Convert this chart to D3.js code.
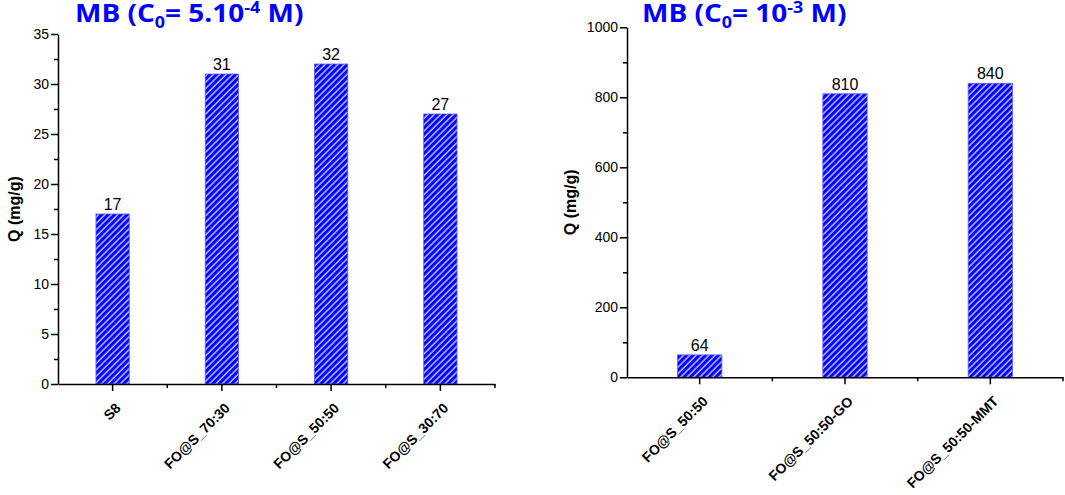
<!DOCTYPE html>
<html><head><meta charset="utf-8">
<script src="https://cdn.jsdelivr.net/npm/d3@7"></script>
<style>body{margin:0;background:#fff} svg{display:block}</style>
</head><body>
<svg id="c" width="1065" height="495"></svg>
<script>
const catsA = ["S8", "FO@S_70:30", "FO@S_50:50", "FO@S_30:70"];
const valsA = [17, 31, 32, 27];
const ticksA = [0, 5, 10, 15, 20, 25, 30, 35];
const minorA = [2.5, 7.5, 12.5, 17.5, 22.5, 27.5, 32.5];
const catsB = ["FO@S_50:50", "FO@S_50:50-GO", "FO@S_50:50-MMT"];
const valsB = [64, 810, 840];
const ticksB = [0, 200, 400, 600, 800, 1000];
const minorB = [100, 300, 500, 700, 900];
const yLabel = "Q (mg/g)";
const titleA = [["MB (C", 0], ["0", -1], ["= 5.10", 0], ["-4", 1], [" M)", 0]];
const titleB = [["MB (C", 0], ["0", -1], ["= 10", 0], ["-3", 1], [" M)", 0]];

const BLUE = "#0000ff";
const svg = d3.select("#c");
const defs = svg.append("defs");
const pat = defs.append("pattern").attr("id", "hatch")
  .attr("patternUnits", "userSpaceOnUse").attr("width", 4.5).attr("height", 4.5)
  .attr("patternTransform", "rotate(45)");
pat.append("rect").attr("width", 4.5).attr("height", 4.5).attr("fill", BLUE);
pat.append("line").attr("x1", 1).attr("y1", -1).attr("x2", 1).attr("y2", 6)
  .attr("stroke", "#fff").attr("stroke-width", 1.1);

function chart(o) {
  const g = svg.append("g");
  const x = d3.scaleBand().domain(o.cats).range(o.xr).padding(0);
  const y = d3.scaleLinear().domain([0, o.ymax]).range(o.yr);
  const bw = x.step() * 0.305;

  g.selectAll("rect.bar").data(o.vals).enter().append("rect")
    .attr("x", (d, i) => x(o.cats[i]) + x.bandwidth() / 2 - bw / 2)
    .attr("width", bw)
    .attr("y", d => y(d))
    .attr("height", d => y(0) - y(d))
    .attr("fill", "url(#hatch)")
    .attr("stroke", "#5a5aff").attr("stroke-width", 0.8);

  g.selectAll("text.val").data(o.vals).enter().append("text")
    .attr("x", (d, i) => x(o.cats[i]) + x.bandwidth() / 2)
    .attr("y", d => y(d) - 4)
    .attr("text-anchor", "middle")
    .style("font-family", "'Liberation Sans', Arial, sans-serif")
    .style("font-size", "16px").attr("fill", "#000")
    .text(d => d);

  const ya = g.append("g").attr("transform", `translate(${o.xr[0]},0)`)
    .call(d3.axisLeft(y).tickValues(o.ticks).tickFormat(d3.format("d"))
      .tickSize(7).tickSizeOuter(0).tickPadding(2));
  ya.selectAll("text").style("font-family", "'Liberation Sans', Arial, sans-serif").style("font-size", "14px").attr("fill", "#000");
  const ym = g.append("g").attr("transform", `translate(${o.xr[0]},0)`)
    .call(d3.axisLeft(y).tickValues(o.minor).tickSize(4).tickSizeOuter(0).tickFormat(""));
  ym.select(".domain").remove();

  const xa = g.append("g").attr("transform", `translate(0,${o.yr[0]})`)
    .call(d3.axisBottom(x).tickSize(7).tickSizeOuter(0));
  xa.selectAll("text")
    .attr("x", 0).attr("y", 0).attr("dy", 0)
    .attr("transform", `translate(${o.lx},${o.ly}) rotate(-45)`)
    .attr("text-anchor", "end")
    .style("font-family", "'Liberation Sans', Arial, sans-serif")
    .style("font-size", "14px").style("font-weight", "bold").attr("fill", "#000");
  const bounds = o.cats.map(c => x(c)).slice(1).concat([o.xr[1]]);
  g.append("g").selectAll("line").data(bounds).enter().append("line")
    .attr("x1", d => d).attr("x2", d => d)
    .attr("y1", o.yr[0]).attr("y2", o.yr[0] + 4)
    .attr("stroke", "#000").attr("stroke-width", 1.5);

  g.selectAll(".domain, .tick line").attr("stroke", "#000").attr("stroke-width", 1.5);

  g.append("text")
    .attr("transform", `translate(${o.ylx},${(o.yr[0] + o.yr[1]) / 2}) rotate(-90)`)
    .attr("text-anchor", "middle").attr("dy", "0.35em")
    .style("font-family", "'Liberation Sans', Arial, sans-serif")
    .style("font-size", "16px").style("font-weight", "bold").attr("fill", "#000")
    .text(yLabel);

  const t = g.append("text").attr("transform", `translate(${o.tx},22) scale(1.12,1)`)
    .style("font-family", "'Open Sans', Lato, sans-serif")
    .style("font-size", "25px").style("font-weight", "bold").attr("fill", BLUE);
  let shift = 0;
  o.title.forEach(([s, k]) => {
    const target = k === -1 ? 6 : k === 1 ? -9 : 0;
    t.append("tspan").attr("dy", target - shift)
      .style("font-size", k === 0 ? "25px" : "16px").text(s);
    shift = target;
  });
}

chart({cats: catsA, vals: valsA, ticks: ticksA, minor: minorA, ymax: 35,
  xr: [58, 495], yr: [384, 34], lx: 9, ly: 25, ylx: 14, tx: 75, title: titleA});
chart({cats: catsB, vals: valsB, ticks: ticksB, minor: minorB, ymax: 1000,
  xr: [627, 1063], yr: [377.3, 27.3], lx: 9, ly: 25, ylx: 570, tx: 642, title: titleB});
</script>
</body></html>
